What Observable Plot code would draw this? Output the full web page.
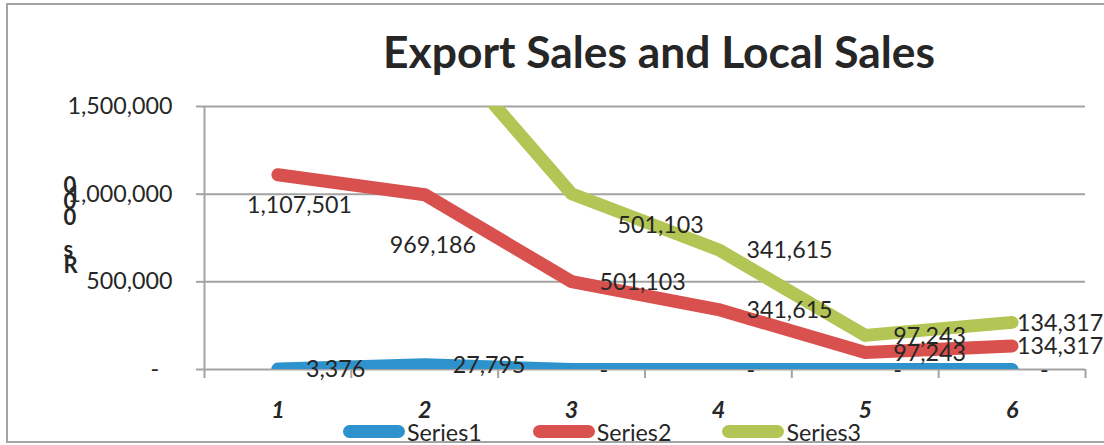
<!DOCTYPE html>
<html>
<head>
<meta charset="utf-8">
<script src="https://cdn.jsdelivr.net/npm/d3@7"></script>
<script src="https://cdn.jsdelivr.net/npm/@observablehq/plot@0.6"></script>
<style>
html, body { margin: 0; padding: 0; background: #fff; }
#chart { position: relative; width: 1104px; height: 445px; overflow: hidden; font-family: Lato, sans-serif; color: #262626; }
#frame { position: absolute; left: 6px; top: 3px; width: 1200px; height: 440px; box-sizing: border-box;
  border-left: 2px solid #a3a3a3; border-top: 2px solid #a3a3a3; border-bottom: 2px solid #a3a3a3; pointer-events: none; z-index: 5; }
#title { height: 80px; box-sizing: border-box; padding-left: 214px; text-align: center; font-weight: bold; white-space: nowrap; line-height: 1; }
#plot svg { display: block; }
#legend { position: relative; height: 25px; display: flex; align-items: flex-start; padding-left: 343px; white-space: nowrap; }
.item { display: flex; align-items: flex-start; margin-right: 51px; }
.sw { width: 62px; height: 13px; border-radius: 6.5px; margin-top: 5px; margin-right: 2px; }
</style>
</head>
<body>
<div id="chart">
  <div id="frame"></div>
  <div id="title"></div>
  <div id="plot"></div>
  <div id="legend"></div>
</div>
<script>
// ---- data ----
const categories = [1, 2, 3, 4, 5, 6];
const seriesNames = ["Series1", "Series2", "Series3"];
const series1 = [3376, 27795, 0, 0, 0, 0];
const series2 = [1107501, 969186, 501103, 341615, 97243, 134317];
const series3 = [1107501, 969186, 501103, 341615, 97243, 134317];
const yTicks = [0, 500000, 1000000, 1500000];
const colors = ["#2e93cc", "#d9514e", "#b3c555"];
const titleText = "Export Sales and Local Sales";
const yTitle = "0\n0\n0\n\ns\nR";

// ---- stacked rows (stacked line chart) ----
const seriesValues = [series1, series2, series3];
const rows = [];
categories.forEach((c, i) => {
  let acc = 0;
  seriesNames.forEach((s, k) => {
    acc += seriesValues[k][i];
    rows.push({cat: c, series: s, value: seriesValues[k][i], top: acc});
  });
});
const yMax = yTicks[yTicks.length - 1];
const fmt = v => v === 0 ? "-" : d3.format(",")(v);

// ---- font fitting ----
const ctx = document.createElement("canvas").getContext("2d");
function fit(text, weight, target) {
  ctx.font = weight + " 100px Lato";
  return 100 * target / ctx.measureText(text).width;
}
const fs = fit("1,500,000", "normal", 105);
const ts = fit(titleText, "bold", 552);

// ---- title ----
const title = document.getElementById("title");
title.textContent = titleText;
title.style.fontSize = ts + "px";
title.style.paddingTop = (68 - 0.887 * ts) + "px";

// ---- plot ----
const gridColor = "#a3a3a3";
const boundaries = d3.range(0.5, 7, 1);
const visible = rows.filter(d => d.top <= yMax);
const isSpecial = d => (d.series === "Series2" && (d.cat === 1 || d.cat === 2)) ||
                       (d.series === "Series3" && d.cat === 3) ||
                       (d.cat === 6 && d.value > 0);
const lbl = (data, dx, dy) => Plot.text(data, {x: "cat", y: "top", text: d => fmt(d.value), textAnchor: "start", dx, dy, fill: "#262626", fontSize: fs});

const plot = Plot.plot({
  width: 1104, height: 340,
  marginLeft: 204, marginRight: 19, marginTop: 26, marginBottom: 51,
  style: {fontFamily: "Lato, sans-serif", fontSize: fs + "px", color: "#262626", background: "transparent", overflow: "visible"},
  x: {type: "linear", domain: [0.5, 6.5], axis: null},
  y: {domain: [0, yMax], axis: null},
  color: {domain: seriesNames, range: colors},
  marks: [
    Plot.ruleY(yTicks.filter(d => d > 0), {stroke: gridColor, strokeWidth: 2}),
    Plot.ruleY([0], {stroke: gridColor, strokeWidth: 2}),
    Plot.ruleX([0.5], {stroke: gridColor, strokeWidth: 2}),
    Plot.axisY({ticks: yTicks, tickSize: 8, tickPadding: 24, label: null,
      tickFormat: d => d === 0 ? "-\u2007" : d3.format(",")(d),
      stroke: gridColor, strokeWidth: 2, strokeOpacity: 1, fill: "#262626", fontSize: fs}),
    Plot.axisX({ticks: boundaries, tickSize: 9, tickFormat: () => "", label: null,
      stroke: gridColor, strokeWidth: 2, strokeOpacity: 1}),
    Plot.axisX({ticks: categories, tickSize: 0, tickPadding: 32, label: null,
      tickFormat: d => String(d), fontWeight: "bold", fontStyle: "italic", fill: "#262626", fontSize: fs}),
    Plot.line(rows, {x: "cat", y: "top", z: "series", stroke: "series", strokeWidth: 13,
      strokeLinecap: "round", strokeLinejoin: "round", clip: true}),
    lbl(visible.filter(d => !isSpecial(d)), 28, 1),
    lbl(visible.filter(d => d.series === "Series2" && d.cat === 1), -31, 31),
    lbl(visible.filter(d => d.series === "Series2" && d.cat === 2), -35, 51),
    lbl(visible.filter(d => d.series === "Series3" && d.cat === 3), 46, 32),
    lbl(visible.filter(d => d.cat === 6 && d.value > 0), 5, 1),
    Plot.text([yTitle], {frameAnchor: "left", text: d => d, dx: -141, dy: -10,
      lineHeight: 0.73, fontSize: 22, fontWeight: "bold", fill: "#262626"})
  ]
});
document.getElementById("plot").appendChild(plot);

// ---- legend ----
const legend = document.getElementById("legend");
seriesNames.forEach((s, k) => {
  const item = document.createElement("div");
  item.className = "item";
  const sw = document.createElement("div");
  sw.className = "sw";
  sw.style.background = colors[k];
  const t = document.createElement("span");
  t.textContent = s;
  t.style.fontSize = fs + "px";
  t.style.lineHeight = "25px";
  item.appendChild(sw);
  item.appendChild(t);
  legend.appendChild(item);
});
</script>
</body>
</html>
